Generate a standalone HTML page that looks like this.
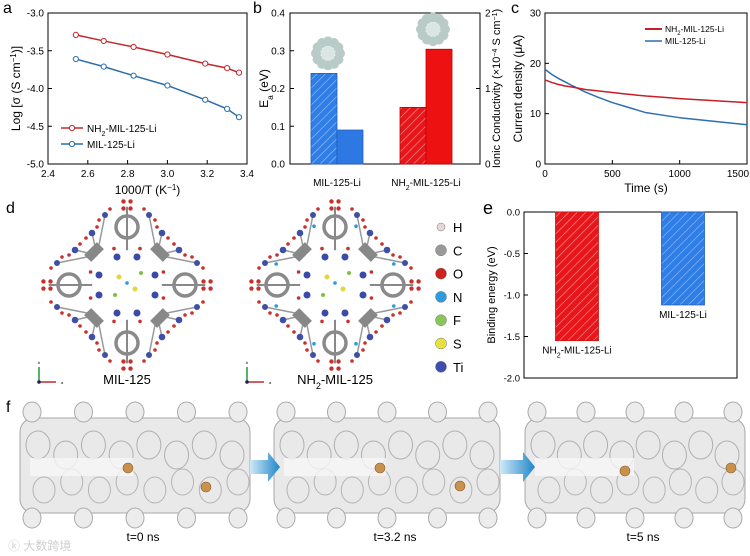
<!DOCTYPE html>
<html><head><meta charset="utf-8"><style>
body{margin:0;background:#fff;}
svg{display:block;font-family:"Liberation Sans","Noto Sans CJK SC",sans-serif;}
</style></head><body>
<svg id="fig" width="750" height="556" viewBox="0 0 750 556">
<defs>
<pattern id="hatchB" patternUnits="userSpaceOnUse" width="6" height="6" patternTransform="rotate(45)"><rect width="6" height="6" fill="#2f7de6"/><line x1="0" y1="0" x2="0" y2="6" stroke="#9cc3f5" stroke-width="1.2"/></pattern>
<pattern id="hatchR" patternUnits="userSpaceOnUse" width="6" height="6" patternTransform="rotate(45)"><rect width="6" height="6" fill="#e8161a"/><line x1="0" y1="0" x2="0" y2="6" stroke="#f59a9a" stroke-width="1.2"/></pattern>
<linearGradient id="arr" x1="0" x2="1"><stop offset="0" stop-color="#cfe8f7"/><stop offset="1" stop-color="#1f86c9"/></linearGradient>
</defs>
<g id="pa"></g>
<g id="pb"></g>
<g id="pc"></g>
<g id="pd"></g>
<g id="pe"></g>
<g id="pf"></g>
</svg>
<script>
// Panel a data
const aX = [2.54, 2.68, 2.83, 3.0, 3.19, 3.30, 3.36];
const aRed = [-3.29, -3.37, -3.45, -3.55, -3.67, -3.73, -3.79];
const aBlue = [-3.61, -3.71, -3.83, -3.96, -4.15, -4.27, -4.38];
const aXTicks = [2.4, 2.6, 2.8, 3.0, 3.2, 3.4];
const aYTicks = [-3.0, -3.5, -4.0, -4.5, -5.0];
// Panel b data
const bCats = ["MIL-125-Li", "NH2-MIL-125-Li"];
const bEa = [0.24, 0.15];
const bCond = [0.45, 1.52];
const bYTicks = [0.0, 0.1, 0.2, 0.3, 0.4];
const bY2Ticks = [0, 1, 2];
// Panel c data
const cT = [0, 50, 100, 150, 200, 300, 400, 500, 600, 750, 900, 1000, 1250, 1500];
const cRed = [16.7, 16.2, 15.8, 15.5, 15.3, 14.8, 14.5, 14.2, 13.9, 13.5, 13.2, 13.0, 12.6, 12.2];
const cBlue = [18.8, 17.8, 17.0, 16.3, 15.6, 14.3, 13.2, 12.2, 11.4, 10.2, 9.6, 9.2, 8.5, 7.8];
const cXTicks = [0, 500, 1000, 1500];
const cYTicks = [0, 10, 20, 30];
// Panel e data
const eCats = ["NH2-MIL-125-Li", "MIL-125-Li"];
const eVals = [-1.55, -1.12];
const eYTicks = [0.0, -0.5, -1.0, -1.5, -2.0];

const NS = "http://www.w3.org/2000/svg";
function mk(parent, tag, attrs, text){
  const e = document.createElementNS(NS, tag);
  for (const k in attrs) e.setAttribute(k, attrs[k]);
  if (text !== undefined) e.textContent = text;
  parent.appendChild(e); return e;
}
function sub(parent, x, y, pre, subs, post, attrs){
  const t = mk(parent, "text", Object.assign({x:x, y:y}, attrs||{}));
  t.appendChild(document.createTextNode(pre));
  const s = document.createElementNS(NS, "tspan"); s.setAttribute("baseline-shift","sub"); s.setAttribute("font-size","0.7em"); s.textContent = subs; t.appendChild(s);
  const p = document.createElementNS(NS, "tspan"); p.textContent = post; t.appendChild(p);
  return t;
}
function frame(g, x0, y0, x1, y1){
  const r = mk(g, "rect", {x:x0, y:y0, width:x1-x0, height:y1-y0, fill:"none", stroke:"#000", "stroke-width":1});
  
  
}

// ---------- Panel a ----------
(function(){
  const g = document.getElementById("pa");
  const X0=48, X1=247, Y0=13, Y1=164;
  const sx = v => X0 + (v-2.4)/(3.4-2.4)*(X1-X0);
  const sy = v => Y0 + (v-(-3.0))/(-5.0-(-3.0))*(Y1-Y0);
  frame(g, X0, Y0, X1, Y1);
  aXTicks.forEach(v=>{ mk(g,"line",{x1:sx(v),x2:sx(v),y1:Y1,y2:Y1-4,stroke:"#000"});
    const t = mk(g,"text",{x:sx(v),y:Y1+13,"font-size":10,"text-anchor":"middle"},v.toFixed(1));
      });
  aYTicks.forEach(v=>{ mk(g,"line",{x1:X0,x2:X0+4,y1:sy(v),y2:sy(v),stroke:"#000"});
    const t = mk(g,"text",{x:X0-4,y:sy(v)+3.5,"font-size":10,"text-anchor":"end"},v.toFixed(1));
      });
  const xt = mk(g,"text",{x:(X0+X1)/2,y:194,"font-size":12,"text-anchor":"middle"},"1000/T (K");
  const sp = document.createElementNS(NS,"tspan"); sp.setAttribute("baseline-shift","super"); sp.setAttribute("font-size","8"); sp.textContent="−1"; xt.appendChild(sp);
  const sp2 = document.createElementNS(NS,"tspan"); sp2.textContent=")"; xt.appendChild(sp2);
   
  const yt = mk(g,"text",{x:0,y:0,"font-size":12,"text-anchor":"middle",transform:"translate(20,"+((Y0+Y1)/2)+") rotate(-90)"},"Log [σ (S cm");
  const s3 = document.createElementNS(NS,"tspan"); s3.setAttribute("baseline-shift","super"); s3.setAttribute("font-size","8"); s3.textContent="−1"; yt.appendChild(s3);
  const s4 = document.createElementNS(NS,"tspan"); s4.textContent=")]"; yt.appendChild(s4);
   
  mk(g,"text",{x:3,y:13,"font-size":16},"a");
  [[aRed,"#c0282d","nh2-series"],[aBlue,"#2a6da8","mil-series"]].forEach(([arr,col,nm])=>{
    const pl = mk(g,"polyline",{points:aX.map((x,i)=>sx(x)+","+sy(arr[i])).join(" "),fill:"none",stroke:col,"stroke-width":1.5});
     
    aX.forEach((x,i)=>{ const c = mk(g,"circle",{cx:sx(x),cy:sy(arr[i]),r:2.6,fill:"#fff",stroke:col,"stroke-width":1});
        });
  });
  [[128,"#c0282d","NH","2","-MIL-125-Li"],[144,"#2a6da8","MIL-125-Li","",""]].forEach(([y,col,a,b,c])=>{
    mk(g,"line",{x1:61,x2:83,y1:y,y2:y,stroke:col,"stroke-width":1.5});
    mk(g,"circle",{cx:72,cy:y,r:2.6,fill:"#fff",stroke:col});
    const t = b? sub(g,87,y+4,a,b,c,{"font-size":10}) : mk(g,"text",{x:87,y:y+4,"font-size":10},a);
     
  });
})();

// ---------- Panel b ----------
(function(){
  const g = document.getElementById("pb");
  const X0=290, X1=480, Y0=13, Y1=164;
  const sy = v => Y1 - v/0.4*(Y1-Y0);
  const sy2 = v => Y1 - v/2*(Y1-Y0);
  const cx = [337, 426], bw = 26;
  frame(g, X0, Y0, X1, Y1);
  bYTicks.forEach(v=>{ mk(g,"line",{x1:X0,x2:X0+4,y1:sy(v),y2:sy(v),stroke:"#000"});
    const t = mk(g,"text",{x:X0-5,y:sy(v)+3.5,"font-size":10,"text-anchor":"end"},v.toFixed(1));
      });
  bY2Ticks.forEach(v=>{ mk(g,"line",{x1:X1,x2:X1-4,y1:sy2(v),y2:sy2(v),stroke:"#000"});
    const t = mk(g,"text",{x:X1+5,y:sy2(v)+3.5,"font-size":10},String(v));
      });
  const fills = [["url(#hatchB)","#2d78e3","#1f5fc0"],["url(#hatchR)","#ee1111","#c00000"]];
  bCats.forEach((c,i)=>{
    const r1 = mk(g,"rect",{x:cx[i]-bw,y:sy(bEa[i]),width:bw,height:Y1-sy(bEa[i]),fill:fills[i][0],stroke:fills[i][2],"stroke-width":0.8});
     
    const r2 = mk(g,"rect",{x:cx[i],y:sy2(bCond[i]),width:bw,height:Y1-sy2(bCond[i]),fill:fills[i][1],stroke:fills[i][2],"stroke-width":0.8});
     
    const by = Math.min(sy(bEa[i]), sy2(bCond[i]));
    const bx = i===0 ? cx[i]-bw/2+4 : cx[i]+bw/2-6;
    const bl = mk(g,"g",{});
     
    for(let k=0;k<12;k++){ const a=k/12*2*Math.PI; mk(bl,"circle",{cx:bx+12*Math.cos(a),cy:by-20+12*Math.sin(a),r:5,fill:"#b9cbc6"}); }
    mk(bl,"circle",{cx:bx,cy:by-20,r:7,fill:"#d9e6e2"});
    const lt = i===0 ? mk(g,"text",{x:cx[i],y:Y1+22,"font-size":10,"text-anchor":"middle"},c) : sub(g,cx[i],Y1+22,"NH","2","-MIL-125-Li",{"font-size":10,"text-anchor":"middle"});
     
  });
  mk(g,"text",{x:253,y:13,"font-size":16},"b");
  const yt = sub(g,0,0,"E","a"," (eV)",{"font-size":12,"text-anchor":"middle",transform:"translate(268,"+((Y0+Y1)/2)+") rotate(-90)"});
   
  const y2 = mk(g,"text",{x:0,y:0,"font-size":11,"text-anchor":"middle",transform:"translate(500,"+((Y0+Y1)/2)+") rotate(-90)"},"Ionic Conductivity (×10");
  const s = document.createElementNS(NS,"tspan"); s.setAttribute("baseline-shift","super"); s.setAttribute("font-size","7"); s.textContent="−4"; y2.appendChild(s);
  const s2 = document.createElementNS(NS,"tspan"); s2.textContent=" S cm"; y2.appendChild(s2);
  const s3 = document.createElementNS(NS,"tspan"); s3.setAttribute("baseline-shift","super"); s3.setAttribute("font-size","7"); s3.textContent="−1"; y2.appendChild(s3);
  const s4 = document.createElementNS(NS,"tspan"); s4.textContent=")"; y2.appendChild(s4);
   
})();

// ---------- Panel c ----------
(function(){
  const g = document.getElementById("pc");
  const X0=545, X1=747, Y0=13, Y1=164;
  const sx = v => X0 + v/1500*(X1-X0);
  const sy = v => Y1 - v/30*(Y1-Y0);
  frame(g, X0, Y0, X1, Y1);
  cXTicks.forEach(v=>{ mk(g,"line",{x1:sx(v),x2:sx(v),y1:Y1,y2:Y1-4,stroke:"#000"});
    const t = mk(g,"text",{x:Math.min(sx(v),738),y:Y1+13,"font-size":10,"text-anchor":"middle"},String(v));
      });
  cYTicks.forEach(v=>{ mk(g,"line",{x1:X0,x2:X0+4,y1:sy(v),y2:sy(v),stroke:"#000"});
    const t = mk(g,"text",{x:X0-4,y:sy(v)+3.5,"font-size":10,"text-anchor":"end"},String(v));
      });
  const pb = mk(g,"polyline",{points:cT.map((t,i)=>sx(t)+","+sy(cBlue[i])).join(" "),fill:"none",stroke:"#2e6fb0","stroke-width":1.5,"stroke-linejoin":"round"});
   
  const pr = mk(g,"polyline",{points:cT.map((t,i)=>sx(t)+","+sy(cRed[i])).join(" "),fill:"none",stroke:"#c81e28","stroke-width":1.5,"stroke-linejoin":"round"});
   
  mk(g,"line",{x1:645,x2:662,y1:29,y2:29,stroke:"#c81e28","stroke-width":2});
  const l1 = sub(g,665,32,"NH","2","-MIL-125-Li",{"font-size":8.5});
   
  mk(g,"line",{x1:645,x2:662,y1:41,y2:41,stroke:"#2e6fb0","stroke-width":1.5});
  const l2 = mk(g,"text",{x:665,y:44,"font-size":8.5},"MIL-125-Li");
   
  const xt = mk(g,"text",{x:(X0+X1)/2,y:192,"font-size":12,"text-anchor":"middle"},"Time (s)");
   
  const yt = mk(g,"text",{x:0,y:0,"font-size":12,"text-anchor":"middle",transform:"translate(522,"+((Y0+Y1)/2)+") rotate(-90)"},"Current density (μA)");
   
  mk(g,"text",{x:511,y:13,"font-size":16},"c");
})();

// ---------- Panel e ----------
(function(){
  const g = document.getElementById("pe");
  const X0=524, X1=737, Y0=212, Y1=378;
  const sy = v => Y0 + (0-v)/2*(Y1-Y0);
  const cx = [577, 683], bw = 43;
  frame(g, X0, Y0, X1, Y1);
  eYTicks.forEach(v=>{ mk(g,"line",{x1:X0,x2:X0+4,y1:sy(v),y2:sy(v),stroke:"#000"});
    const t = mk(g,"text",{x:X0-4,y:sy(v)+3.5,"font-size":9.5,"text-anchor":"end"},v.toFixed(1));
      });
  const fills = [["url(#hatchR)","#d01010"],["url(#hatchB)","#1f5fc0"]];
  eCats.forEach((c,i)=>{
    const r = mk(g,"rect",{x:cx[i]-bw/2,y:Y0,width:bw,height:sy(eVals[i])-Y0,fill:fills[i][0],stroke:fills[i][1],"stroke-width":0.8});
     
    const ly = sy(eVals[i])+13;
    const t = i===0 ? sub(g,cx[i],ly,"NH","2","-MIL-125-Li",{"font-size":10,"text-anchor":"middle"}) : mk(g,"text",{x:cx[i],y:ly,"font-size":10,"text-anchor":"middle"},c);
     
  });
  const yt = mk(g,"text",{x:0,y:0,"font-size":11,"text-anchor":"middle",transform:"translate(495,"+((Y0+Y1)/2)+") rotate(-90)"},"Binding energy (eV)");
   
  mk(g,"text",{x:483,y:214,"font-size":18},"e");
})();

// ---------- Panel d ----------
(function(){
  const g = document.getElementById("pd");
  mk(g,"text",{x:6,y:213,"font-size":16},"d");
  function fw(cx, cy, amino){
    const f = mk(g,"g",{});
    
    
    const rings = [[0,-58],[0,58],[-58,0],[58,0]];
    rings.forEach(([dx,dy])=>{
      mk(f,"line",{x1:cx+dx*1.35,y1:cy+dy*1.35,x2:cx+dx*0.6,y2:cy+dy*0.6,stroke:"#888","stroke-width":2});
      mk(f,"circle",{cx:cx+dx,cy:cy+dy,r:11,fill:"none",stroke:"#8a8a8a","stroke-width":3.5});
      for(let k=0;k<4;k++){const a=k*Math.PI/2+Math.PI/4; mk(f,"circle",{cx:cx+dx*1.38+5*Math.cos(a),cy:cy+dy*1.38+5*Math.sin(a),r:2.2,fill:"#c9302c"});}
    });
    [[-1,-1],[1,-1],[-1,1],[1,1]].forEach(([sx,sy])=>{
      [[35,52],[52,35],[22,70],[70,22]].forEach(([a,b],j)=>{
        mk(f,"line",{x1:cx+sx*a,y1:cy+sy*b,x2:cx+sx*30,y2:cy+sy*30,stroke:"#999","stroke-width":1.5});
        mk(f,"circle",{cx:cx+sx*a,cy:cy+sy*b,r:j<2?3.3:3,fill:"#3f4fa8"});
        mk(f,"circle",{cx:cx+sx*(a+6),cy:cy+sy*(b-5),r:1.8,fill:"#c9302c"});
        mk(f,"circle",{cx:cx+sx*(a-5),cy:cy+sy*(b+6),r:1.8,fill:"#c9302c"});
      });
      mk(f,"rect",{x:cx+sx*33-9,y:cy+sy*33-5,width:18,height:10,fill:"#888",transform:"rotate("+(sx*sy*-45)+" "+(cx+sx*33)+" "+(cy+sy*33)+")"});
    });
    [[-10,-28],[10,-28],[28,-10],[28,10],[10,28],[-10,28],[-28,10],[-28,-10]].forEach(([a,b])=>{
      mk(f,"circle",{cx:cx+a,cy:cy+b,r:3.5,fill:"#3a4aa8"});
      mk(f,"circle",{cx:cx+a*1.3,cy:cy+b*1.3,r:1.8,fill:"#c9302c"});
      if(amino) mk(f,"circle",{cx:cx+a*2.1,cy:cy+b*2.1,r:1.8,fill:"#2b9bd6"});
    });
    mk(f,"circle",{cx:cx-8,cy:cy-8,r:2.5,fill:"#e0d83a"});
    mk(f,"circle",{cx:cx+8,cy:cy+4,r:2.5,fill:"#e0d83a"});
    mk(f,"circle",{cx:cx+14,cy:cy-12,r:2,fill:"#7dbf4a"});
    mk(f,"circle",{cx:cx-12,cy:cy+10,r:2,fill:"#7dbf4a"});
    mk(f,"circle",{cx:cx,cy:cy-2,r:1.8,fill:"#2b9bd6"});
    const ax = cx-88, ay = cy+97;
    mk(f,"line",{x1:ax,y1:ay,x2:ax,y2:ay-15,stroke:"#1d9a2f","stroke-width":1.5});
    mk(f,"line",{x1:ax,y1:ay,x2:ax+17,y2:ay,stroke:"#c0282d","stroke-width":1.5});
    mk(f,"circle",{cx:ax,cy:ay,r:1.8,fill:"#1b1f5a"});
    mk(f,"text",{x:ax-1,y:ay-18,"font-size":4},"b");
    mk(f,"text",{x:ax+22,y:ay+2,"font-size":4},"a");
  }
  fw(127, 285, false);
  fw(335, 285, true);
  const t1 = mk(g,"text",{x:127,y:384,"font-size":13,"text-anchor":"middle"},"MIL-125");
   
  const t2 = sub(g,335,384,"NH","2","-MIL-125",{"font-size":13,"text-anchor":"middle"});
   
  const leg = [["H","#e8d6d6"],["C","#9a9a9a"],["O","#d0201c"],["N","#2d9be0"],["F","#86c65a"],["S","#e6e23c"],["Ti","#3d4db0"]];
  leg.forEach(([n,c],i)=>{
    const y = 227 + i*23.3;
    const cc = mk(g,"circle",{cx:441,cy:y,r:n==="H"?4:5.5,fill:c,stroke:"#777","stroke-width":0.5});
     
    const t = mk(g,"text",{x:453,y:y+5,"font-size":13},n);
     
  });
})();

// ---------- Panel f ----------
(function(){
  const g = document.getElementById("pf");
  mk(g,"text",{x:6,y:412,"font-size":16},"f");
  const blocks = [[20,250,"t=0 ns",[[128,468],[206,487]]],[274,500,"t=3.2 ns",[[380,468],[460,486]]],[525,745,"t=5 ns",[[625,471],[731,468]]]];
  blocks.forEach(([x0,x1,lab,li])=>{
    const b = mk(g,"g",{});
     
    mk(b,"rect",{x:x0,y:418,width:x1-x0,height:95,rx:14,fill:"#e9e9e9",stroke:"#a8a8a8","stroke-width":1});
    for(let k=0;k<5;k++){ const px = x0+12+k*(x1-x0-24)/4;
      mk(b,"ellipse",{cx:px,cy:412,rx:9,ry:10,fill:"#ececec",stroke:"#aaa"});
      mk(b,"ellipse",{cx:px,cy:518,rx:9,ry:10,fill:"#ececec",stroke:"#aaa"}); }
    for(let k=0;k<8;k++){ const px = x0+18+k*(x1-x0-36)/7;
      mk(b,"ellipse",{cx:px,cy:445+(k%2)*10,rx:12,ry:14,fill:"none",stroke:"#b0b0b0"});
      mk(b,"ellipse",{cx:px+6,cy:490-(k%2)*8,rx:11,ry:13,fill:"none",stroke:"#b5b5b5"}); }
    mk(b,"rect",{x:x0+10,y:458,width:(x1-x0)*0.45,height:18,fill:"#f6f6f6",opacity:0.8});
    li.forEach(([x,y])=>{ const c = mk(b,"circle",{cx:x,cy:y,r:5,fill:"#c8914e",stroke:"#8a5a25","stroke-width":0.6});
        });
    const t = mk(g,"text",{x:(x0+x1)/2+8,y:541,"font-size":12,"text-anchor":"middle"},lab);
     
  });
  [[250,280],[500,535]].forEach(([a,b])=>{
    const ar = mk(g,"polygon",{points:`${a},460 ${b-12},460 ${b-12},452 ${b},467 ${b-12},482 ${b-12},474 ${a},474`,fill:"url(#arr)"});
     
  });
  const w = mk(g,"text",{x:8,y:550,"font-size":12,fill:"#cfcfcf"},"ⓚ 大数跨境");
   
})();
</script>
</body></html>
